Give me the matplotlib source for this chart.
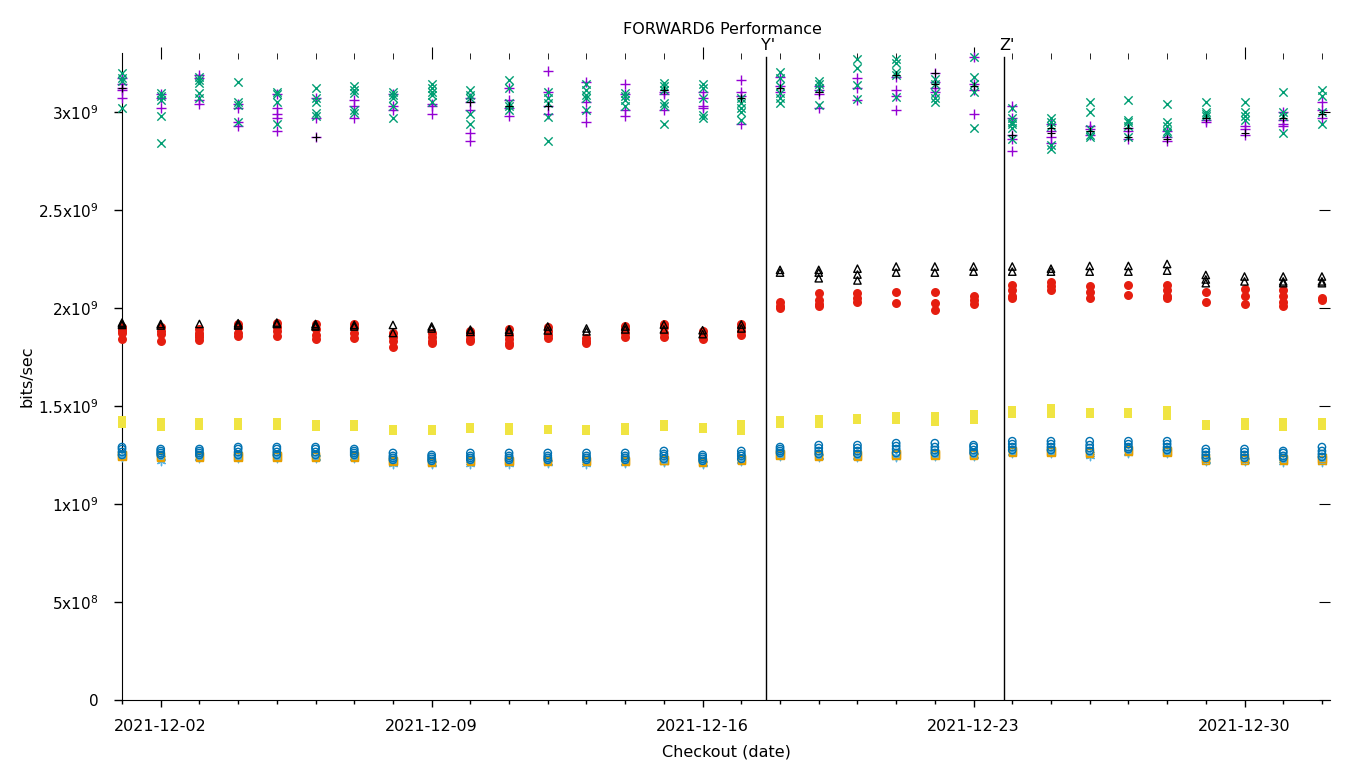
import matplotlib
matplotlib.use("Agg")
import matplotlib.pyplot as plt
import matplotlib.dates as mdates
import matplotlib.transforms as mtransforms
import pandas as pd

# Checkout dates, one column of runs per day
days = pd.date_range("2021-12-01", periods=32, freq="D")

# release markers
marker_names = ["Y'", "Z'"]
marker_dates = [pd.Timestamp("2021-12-17 15:00"), pd.Timestamp("2021-12-23 19:00")]

# values in units of 1e9 bits/sec, one list per day
purple_plus = [
    [3.17, 3.14, 3.12, 3.11, 3.07], [3.09, 3.07, 3.02], [3.19, 3.17, 3.06, 3.04],
    [3.04, 3.02, 2.95, 2.93], [3.09, 3.02, 2.99, 2.97, 2.90], [3.07, 2.97, 2.87],
    [3.06, 3.03, 2.97], [3.09, 3.03, 3.01], [3.04, 3.03, 2.99],
    [3.07, 3.05, 3.01, 2.89, 2.85], [3.12, 3.06, 3.02, 2.98], [3.21, 3.10, 3.03, 2.99],
    [3.15, 3.05, 3.00, 2.95], [3.14, 3.09, 3.01, 2.98], [3.10, 3.09, 3.01],
    [3.10, 3.07, 3.03, 3.02], [3.16, 3.10, 3.08, 2.94], [3.18, 3.13, 3.10],
    [3.13, 3.11, 3.09, 3.02], [3.17, 3.12, 3.06], [3.18, 3.11, 3.08, 3.01],
    [3.20, 3.15, 3.12, 3.10], [3.28, 3.14, 3.11, 2.99], [3.03, 2.97, 2.88, 2.86, 2.80],
    [2.94, 2.90, 2.87, 2.84], [2.93, 2.91, 2.88], [2.92, 2.90, 2.86],
    [2.90, 2.87, 2.85], [2.96, 2.95], [2.93, 2.91, 2.88],
    [3.00, 2.96, 2.94, 2.93], [3.05, 3.01, 2.97],
]
green_x = [
    [3.20, 3.17, 3.155, 3.02], [3.095, 3.08, 3.06, 2.98, 2.84], [3.18, 3.16, 3.145, 3.095, 3.07],
    [3.15, 3.05, 3.035, 2.95], [3.10, 3.09, 3.05, 2.94], [3.12, 3.07, 3.05, 2.995, 2.98],
    [3.13, 3.11, 3.095, 3.01, 2.995], [3.10, 3.085, 3.07, 3.03, 2.97], [3.14, 3.12, 3.10, 3.085, 3.05],
    [3.11, 3.085, 3.07, 2.99, 2.94], [3.16, 3.12, 3.045, 3.03, 3.01], [3.10, 3.07, 3.045, 2.975, 2.85],
    [3.14, 3.11, 3.085, 3.07, 3.01], [3.095, 3.08, 3.06, 3.03], [3.145, 3.13, 3.11, 3.045, 3.03, 2.94],
    [3.14, 3.12, 3.07, 2.985, 2.97], [3.07, 3.045, 3.02, 3.00, 2.96], [3.205, 3.17, 3.13, 3.095, 3.07, 3.045],
    [3.155, 3.14, 3.12, 3.035], [3.27, 3.225, 3.135, 3.065], [3.27, 3.25, 3.205, 3.19, 3.075],
    [3.165, 3.14, 3.095, 3.07, 3.05], [3.28, 3.18, 3.14, 3.10, 2.92], [3.02, 2.97, 2.95, 2.94, 2.92, 2.86],
    [2.97, 2.95, 2.93, 2.83, 2.81], [3.05, 3.00, 2.91, 2.88, 2.87], [3.06, 2.96, 2.95, 2.93, 2.87],
    [3.04, 2.95, 2.93, 2.90, 2.89], [3.05, 3.00, 2.99, 2.98], [3.05, 3.00, 2.98, 2.96],
    [3.10, 3.00, 2.98, 2.89], [3.11, 3.08, 3.00, 2.94],
]
black_plus = [
    [3.12], [], [], [], [], [2.87], [], [], [], [3.05], [3.03], [3.03], [], [], [3.11], [],
    [3.07], [3.12], [3.10], [], [3.19], [3.20, 3.14], [3.13], [2.88], [2.92, 2.89], [2.90],
    [2.92, 2.87], [2.86], [2.97], [2.89], [2.97], [2.99],
]
light_blue_star = [
    [1.245, 1.24], [1.235, 1.22], [1.24, 1.235], [1.24, 1.235], [1.24, 1.235], [1.24, 1.235],
    [1.24, 1.235], [1.215, 1.205], [1.21, 1.205], [1.215, 1.205], [1.215, 1.205], [1.215, 1.21],
    [1.215, 1.205], [1.215, 1.21], [1.22, 1.215], [1.21, 1.205], [1.225, 1.22], [1.25, 1.245],
    [1.245, 1.24], [1.245, 1.24], [1.245, 1.24], [1.25, 1.245], [1.25, 1.245], [1.265, 1.26],
    [1.265, 1.26], [1.255, 1.245], [1.265, 1.26], [1.265, 1.26], [1.225, 1.22], [1.225, 1.22],
    [1.225, 1.215], [1.225, 1.215],
]
orange_square = [
    [1.25, 1.245], [1.245, 1.24], [1.245, 1.24], [1.245, 1.24], [1.245, 1.24], [1.245, 1.24],
    [1.245, 1.24], [1.22, 1.215], [1.215, 1.21], [1.22, 1.215], [1.22, 1.215], [1.22, 1.215],
    [1.22, 1.215], [1.22, 1.215], [1.225, 1.22], [1.215, 1.21], [1.23, 1.225], [1.255, 1.25],
    [1.25, 1.245], [1.25, 1.245], [1.255, 1.25], [1.255, 1.25], [1.255, 1.25], [1.27, 1.265],
    [1.27, 1.265], [1.265, 1.26], [1.275, 1.27], [1.27, 1.265], [1.235, 1.225], [1.235, 1.225],
    [1.23, 1.225], [1.235, 1.225],
]
yellow_square = [
    [1.43, 1.41], [1.418, 1.39], [1.42, 1.40], [1.42, 1.40], [1.42, 1.40], [1.41, 1.39],
    [1.41, 1.39], [1.38, 1.37], [1.38, 1.37], [1.39, 1.38], [1.39, 1.37], [1.38, 1.375],
    [1.38, 1.37], [1.39, 1.37], [1.41, 1.39], [1.39, 1.38], [1.41, 1.39, 1.37], [1.43, 1.41],
    [1.435, 1.41], [1.44, 1.43], [1.45, 1.43], [1.45, 1.42], [1.46, 1.43], [1.48, 1.46],
    [1.49, 1.46], [1.47, 1.46], [1.47, 1.46], [1.48, 1.45], [1.41, 1.40], [1.42, 1.40],
    [1.42, 1.39], [1.42, 1.40],
]
blue_circle = [
    [1.29, 1.28, 1.265, 1.25], [1.28, 1.27, 1.26, 1.25], [1.28, 1.27, 1.26, 1.25],
    [1.29, 1.28, 1.265, 1.25], [1.29, 1.28, 1.265, 1.25], [1.29, 1.28, 1.265, 1.25],
    [1.28, 1.27, 1.26, 1.25], [1.26, 1.245, 1.235, 1.225], [1.25, 1.24, 1.23, 1.22],
    [1.26, 1.245, 1.235, 1.225], [1.26, 1.245, 1.235, 1.225], [1.26, 1.245, 1.235, 1.225],
    [1.26, 1.245, 1.235, 1.225], [1.26, 1.245, 1.235, 1.225], [1.27, 1.255, 1.245, 1.23],
    [1.25, 1.24, 1.23, 1.22], [1.27, 1.255, 1.245, 1.23], [1.29, 1.28, 1.27, 1.26],
    [1.30, 1.285, 1.27, 1.255], [1.30, 1.285, 1.27, 1.255], [1.31, 1.295, 1.28, 1.26],
    [1.31, 1.29, 1.275, 1.26], [1.30, 1.29, 1.275, 1.26], [1.32, 1.305, 1.29, 1.275],
    [1.32, 1.305, 1.29, 1.275], [1.32, 1.30, 1.285, 1.27], [1.32, 1.305, 1.29, 1.28],
    [1.32, 1.305, 1.29, 1.275], [1.28, 1.265, 1.25, 1.235], [1.28, 1.265, 1.25, 1.235],
    [1.27, 1.26, 1.245, 1.235], [1.29, 1.27, 1.255, 1.24],
]
red_circle = [
    [1.90, 1.89, 1.88, 1.87, 1.84], [1.90, 1.88, 1.865, 1.83], [1.89, 1.87, 1.86, 1.85, 1.835],
    [1.92, 1.90, 1.87, 1.855], [1.925, 1.90, 1.88, 1.855], [1.92, 1.89, 1.86, 1.84],
    [1.92, 1.90, 1.87, 1.845], [1.87, 1.85, 1.83, 1.80], [1.87, 1.85, 1.83, 1.82],
    [1.88, 1.86, 1.84, 1.83], [1.89, 1.86, 1.84, 1.82, 1.81], [1.90, 1.88, 1.86, 1.845],
    [1.845, 1.83, 1.82], [1.91, 1.89, 1.87, 1.85], [1.92, 1.90, 1.87, 1.85],
    [1.88, 1.86, 1.84], [1.92, 1.90, 1.88, 1.86], [2.03, 2.01, 2.00],
    [2.075, 2.04, 2.02, 2.01], [2.075, 2.05, 2.03], [2.083, 2.027],
    [2.083, 2.027, 1.99], [2.06, 2.04, 2.02], [2.117, 2.09, 2.06, 2.05],
    [2.134, 2.11, 2.09], [2.11, 2.08, 2.05], [2.117, 2.066],
    [2.117, 2.09, 2.06, 2.05], [2.083, 2.03], [2.095, 2.06, 2.02],
    [2.09, 2.06, 2.03, 2.01], [2.05, 2.04],
]
black_triangle = [
    [1.925, 1.92, 1.913], [1.918, 1.91], [1.918], [1.922, 1.915, 1.91], [1.925, 1.918],
    [1.918, 1.91, 1.905], [1.913, 1.905], [1.913, 1.872], [1.905, 1.895], [1.889, 1.878],
    [1.889, 1.878], [1.905, 1.885], [1.895, 1.88], [1.905, 1.89], [1.915, 1.89],
    [1.886, 1.866], [1.915, 1.895], [2.194, 2.18], [2.194, 2.18, 2.151], [2.20, 2.17, 2.14],
    [2.211, 2.18], [2.211, 2.18], [2.211, 2.185], [2.211, 2.185], [2.20, 2.185],
    [2.214, 2.185], [2.214, 2.185], [2.224, 2.19], [2.168, 2.145, 2.126], [2.16, 2.135],
    [2.16, 2.135, 2.126], [2.16, 2.135, 2.126],
]

y_ticks = [0, 0.5e9, 1e9, 1.5e9, 2e9, 2.5e9, 3e9]
y_tick_labels = ["0", r"5x10$^{8}$", r"1x10$^{9}$", r"1.5x10$^{9}$",
                 r"2x10$^{9}$", r"2.5x10$^{9}$", r"3x10$^{9}$"]


def flatten(per_day):
    xs, ys = [], []
    for d, vals in zip(days, per_day):
        for v in vals:
            xs.append(d)
            ys.append(v * 1e9)
    return xs, ys


plt.rcParams['font.family'] = ['DejaVu Sans']
plt.rcParams['font.size'] = 11.5
plt.rcParams['mathtext.default'] = 'regular'

fig = plt.figure(figsize=(13.6, 7.68), dpi=100)
ax = fig.add_axes([122 / 1360, 68 / 768, 1208 / 1360, 647 / 768])

# gnuplot-ish drawing order
series = [
    (purple_plus, dict(marker="+", color="#9400d3", s=50, linewidths=1.0)),
    (green_x, dict(marker="x", color="#009e73", s=36, linewidths=1.0)),
    (light_blue_star, dict(marker=(6, 2, 0), color="#56b4e9", s=36, linewidths=1.0)),
    (orange_square, dict(marker="s", facecolors="none", edgecolors="#e69f00", s=28, linewidths=1.0)),
    (yellow_square, dict(marker="s", color="#f0e442", s=40, linewidths=0)),
    (blue_circle, dict(marker="o", facecolors="none", edgecolors="#0072b2", s=28, linewidths=1.0)),
    (red_circle, dict(marker="o", color="#e51e10", s=42, linewidths=0)),
    (black_triangle, dict(marker="^", facecolors="none", edgecolors="black", s=28, linewidths=1.0)),
    (black_plus, dict(marker="+", color="black", s=36, linewidths=0.8)),
]
for per_day, style in series:
    xs, ys = flatten(per_day)
    ax.scatter(xs, ys, zorder=3, clip_on=False, **style)

ax.set_xlim(pd.Timestamp("2021-12-01"), pd.Timestamp("2022-01-01 05:00"))
ax.set_ylim(0, 3.3e9)

# release lines
label_trans = mtransforms.blended_transform_factory(ax.transData, ax.transAxes)
for name, d in zip(marker_names, marker_dates):
    ax.axvline(d, ymin=0, ymax=0.994, color="black", lw=1.0, zorder=2)
    ax.annotate(name, xy=(mdates.date2num(d), 1.0), xycoords=label_trans, xytext=(3, 0),
                textcoords="offset pixels", ha="center", va="bottom", fontsize=11.5)

ax.spines["top"].set_visible(False)
ax.spines["right"].set_visible(False)

major_days = mdates.DayLocator(bymonthday=[2, 9, 16, 23, 30])
ax.xaxis.set_major_locator(major_days)
ax.xaxis.set_minor_locator(mdates.DayLocator())
ax.xaxis.set_major_formatter(mdates.DateFormatter("%Y-%m-%d"))
ax.set_yticks(y_ticks)
ax.set_yticklabels(y_tick_labels)
ax.tick_params(axis="x", which="major", direction="out", length=5, width=1, pad=9)
ax.tick_params(axis="x", which="minor", direction="out", length=3, width=1)
ax.tick_params(axis="y", direction="out", length=6, width=1, pad=11, labelsize=11)

# mirrored ticks on top and right, no border
top = ax.secondary_xaxis("top")
top.xaxis.set_major_locator(mdates.DayLocator(bymonthday=[2, 9, 16, 23, 30]))
top.xaxis.set_minor_locator(mdates.DayLocator())
top.tick_params(which="major", direction="inout", length=8, labeltop=False)
top.tick_params(which="minor", direction="in", length=4)
top.spines["top"].set_visible(False)
right = ax.secondary_yaxis("right")
right.set_yticks(y_ticks)
right.tick_params(direction="in", length=8, labelright=False)
right.spines["right"].set_visible(False)

fig.text(722 / 1360, 1 - 29 / 768, "FORWARD6 Performance", ha="center", va="center", fontsize=11.5)
ax.set_xlabel("Checkout (date)", labelpad=7)
ax.set_ylabel("bits/sec", labelpad=2)

fig.savefig("out.png", dpi=100)
